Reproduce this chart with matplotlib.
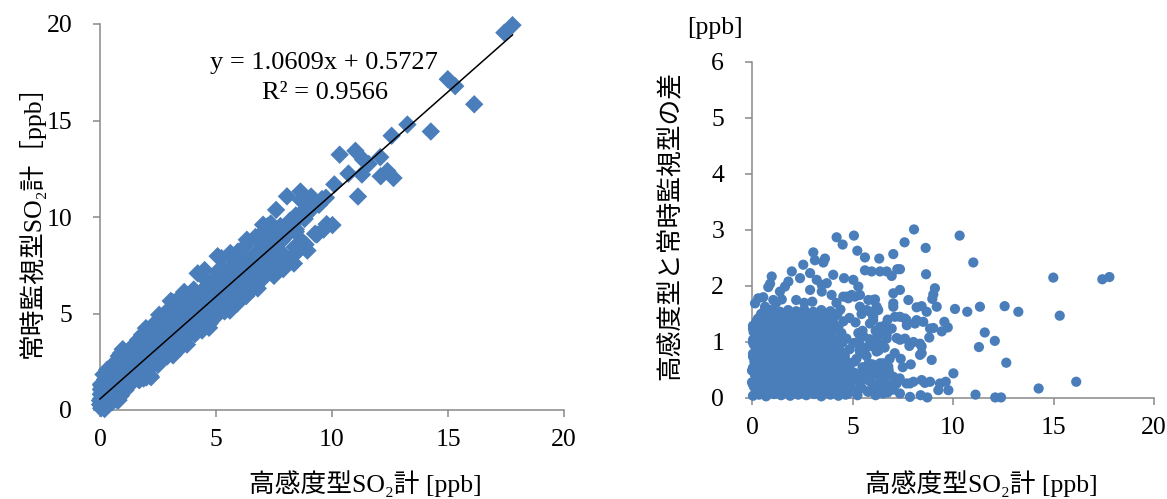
import numpy as np
import matplotlib
matplotlib.use("Agg")
import matplotlib.pyplot as plt

plt.rcParams['font.family'] = ['Liberation Serif', 'Noto Sans CJK JP', 'DejaVu Sans']

# 高感度型SO2計 (x) readings [ppb]
high_sens = [
    # low band
    0.05, 0.35, 0.70, 1.10, 1.45, 1.90, 2.30, 2.70, 3.10, 3.45, 3.90, 4.30, 4.75,
    0.20, 0.55, 0.90, 1.30, 1.70, 2.05, 2.50, 2.85, 3.30, 3.70, 4.10, 4.55, 5.00,
    0.00, 0.40, 0.80, 1.15, 1.55, 2.00, 2.35, 2.75, 3.15, 3.55, 4.00, 4.40, 4.85,
    0.15, 0.50, 0.95, 1.35, 1.75, 2.20, 2.60, 3.00, 3.40, 3.85, 4.25, 4.70,
    0.05, 0.45, 0.85, 1.25, 1.60, 2.05, 2.45, 2.90, 3.30, 3.70, 4.15, 4.60,
    0.20, 0.60, 1.00, 1.45, 1.85, 2.25, 2.65, 3.10, 3.50, 3.95, 4.40,
    0.05, 0.40, 0.80, 1.20, 1.65, 2.05, 2.45, 2.85, 3.25, 3.70, 4.10, 4.60,
    0.20, 0.60, 1.00, 1.40, 1.80, 2.20, 2.65, 3.05, 3.45, 3.90,
    0.05, 0.45, 0.85, 1.25, 1.65, 2.05, 2.45, 2.85, 3.30, 3.75, 4.20, 4.70,
    0.20, 0.65, 1.05, 1.50, 1.90, 2.30, 2.70, 3.10, 3.50, 4.00, 4.45,
    0.05, 0.45, 0.90, 1.30, 1.70, 2.15, 2.55, 2.95, 3.35, 3.80, 4.30,
    0.30, 0.70, 1.15, 1.55, 1.95, 2.40, 2.80, 3.20, 3.65, 4.10, 4.85,
    0.60, 1.00, 1.40, 1.80, 2.20, 2.60, 3.05, 3.45, 3.90, 4.40,
    0.10, 0.10, 0.12, 0.08,
    # low band, in-between points
    0.18, 0.52, 0.90, 1.28, 1.68, 2.10, 2.50, 2.90, 3.28, 3.68, 4.08, 4.50,
    0.05, 0.42, 0.75, 1.12, 1.50, 1.88, 2.28, 2.68, 3.05, 3.48, 3.88, 4.30, 4.72,
    0.22, 0.60, 0.98, 1.35, 1.75, 2.15, 2.55, 2.95, 3.35, 3.75, 4.18, 4.60,
    0.00, 0.32, 0.72, 1.12, 1.52, 1.92, 2.35, 2.78, 3.18, 3.60, 4.02, 4.45, 4.90,
    0.25, 0.65, 1.05, 1.42, 1.82, 2.22, 2.62, 3.05, 3.48, 3.90, 4.35, 4.80,
    0.05, 0.40, 0.80, 1.22, 1.62, 2.02, 2.42, 2.85, 3.28, 3.70, 4.15, 4.62,
    0.22, 0.62, 1.02, 1.42, 1.85, 2.25, 2.65, 3.05, 3.48, 3.90, 4.35, 4.85,
    0.05, 0.40, 0.80, 1.20, 1.60, 2.00, 2.42, 2.85, 3.25, 3.68, 4.10, 4.50,
    0.25, 0.65, 1.05, 1.45, 1.85, 2.25, 2.68, 3.08, 3.50, 3.95, 4.45,
    0.05, 0.42, 0.85, 1.28, 1.70, 2.10, 2.50, 2.92, 3.32, 3.75, 4.20,
    0.22, 0.65, 1.08, 1.50, 1.92, 2.35, 2.75, 3.15, 3.58, 4.00, 4.55,
    0.45, 0.88, 1.30, 1.72, 2.12, 2.55, 2.98, 3.38, 3.80, 4.25,
    # upper edge below 5.3 ppb
    0.15, 0.31, 0.56, 0.65, 1.06, 0.81, 0.90, 0.98, 1.39, 1.48, 1.64, 1.81, 1.98,
    2.39, 2.55, 2.89, 2.89, 3.05, 3.13, 3.55, 3.63, 3.22, 3.47, 3.72, 3.47, 3.96,
    4.04, 4.21, 4.51, 4.58, 4.54, 4.71, 4.79, 4.96, 5.04, 5.07, 5.24, 5.29, 2.20,
    2.60, 3.00, 1.20, 4.20,
    # 5-7.8 ppb, upper
    5.12, 5.37, 5.37, 5.62, 5.62, 5.71, 5.79, 5.87, 5.87, 5.95, 6.03, 6.03, 6.03,
    6.12, 6.20, 6.28, 6.33, 6.37, 6.37, 6.62, 6.70, 6.70, 6.70, 6.95, 6.95, 7.03,
    7.03, 7.03, 7.03, 7.11, 7.20, 7.23, 7.36, 7.36, 7.36, 7.36, 7.59, 7.61, 7.61,
    7.70, 7.78, 7.83,
    # 5-7.9 ppb, lower
    5.04, 5.29, 5.37, 5.79, 6.03, 6.20, 6.20, 6.37, 6.53, 6.78, 6.87, 7.03, 7.20,
    5.37, 5.79, 6.03, 6.53, 6.95, 7.36, 5.10, 5.20, 5.50, 5.60, 5.90, 5.30, 5.80,
    6.10, 6.40, 5.15, 5.50, 5.45, 6.45, 5.60, 6.30, 6.80, 7.50, 7.90,
    5.15, 5.45, 5.75, 6.05, 6.35, 6.65, 5.30, 5.60, 5.90, 6.20, 6.50, 6.85,
    5.10, 5.40, 5.70, 6.00, 6.30, 6.60, 5.25, 5.55, 5.85, 6.15, 6.45, 6.75,
    7.10, 7.40,
    4.65, 4.95, 5.25, 5.55, 5.85, 6.15, 6.45, 6.75, 7.05, 7.35, 4.90, 5.35,
    5.95, 6.60,
    # above 7.6 ppb
    7.69, 7.69, 7.86, 7.86, 8.03, 8.03, 8.06, 8.11, 8.19, 8.19, 8.36, 8.36, 8.39,
    8.44, 8.44, 8.44, 8.44, 8.52, 8.60, 8.64, 8.66, 8.69, 8.72, 8.82, 8.86, 8.86,
    8.94, 8.97, 9.02, 9.02, 9.10, 9.19, 9.27, 9.35, 9.44, 9.57, 9.64, 9.74, 9.77,
    10.02, 10.10, 10.33, 10.71, 11.01, 11.12, 11.29, 11.34, 11.58, 12.08, 12.10,
    12.39, 12.57, 12.65, 13.25, 14.26, 14.99, 15.31, 16.13, 17.43, 17.78,
]

# 常時監視型SO2計 (y) readings [ppb], same order
continuous = [
    # low band
    0.09, 0.29, 0.73, 1.03, 1.50, 1.86, 2.36, 2.65, 3.17, 3.42, 3.96, 4.26, 4.82,
    0.05, 0.74, 0.74, 1.48, 1.55, 2.24, 2.34, 3.03, 3.15, 3.89, 3.94, 4.73, 4.85,
    0.28, 0.71, 0.51, 1.47, 1.83, 1.69, 2.65, 3.03, 2.83, 3.84, 4.31, 4.12, 5.15,
    0.56, 0.94, 1.35, 1.78, 2.17, 1.70, 3.04, 3.41, 3.83, 4.25, 4.67, 4.26,
    0.59, 1.02, 1.38, 1.81, 2.14, 2.62, 3.00, 3.43, 3.86, 4.24, 4.72, 5.15,
    0.87, 1.30, 1.66, 2.14, 2.52, 2.95, 3.31, 3.79, 4.17, 4.65, 5.06,
    0.84, 1.22, 1.58, 2.01, 2.45, 2.83, 3.27, 3.64, 4.06, 4.48, 4.92, 5.40,
    1.12, 1.55, 1.91, 2.34, 2.72, 3.15, 3.56, 3.99, 4.37, 4.85,
    1.09, 1.52, 1.88, 2.31, 2.69, 3.12, 3.48, 3.91, 4.34, 4.82, 5.23, 5.76,
    1.37, 1.85, 2.21, 2.69, 3.07, 3.50, 3.86, 4.29, 4.67, 5.20, 5.61,
    1.34, 1.77, 2.18, 2.61, 2.99, 3.47, 3.83, 4.26, 4.64, 5.12, 5.58,
    1.72, 2.15, 2.56, 2.99, 3.37, 3.85, 4.21, 4.64, 5.07, 5.55, 6.28,
    2.15, 2.58, 2.94, 3.37, 3.75, 4.18, 4.59, 5.02, 5.45, 5.98,
    1.05, 0.30, 0.77, 1.26,
    # low band, in-between points
    0.28, 0.40, 1.01, 1.38, 1.56, 2.21, 2.60, 2.78, 3.39, 3.78, 3.96, 4.61,
    0.29, 0.65, 0.50, 1.36, 1.73, 1.63, 2.52, 2.91, 3.30, 3.24, 4.11, 4.55, 4.48,
    0.58, 0.96, 1.34, 1.71, 2.11, 1.79, 2.91, 3.31, 3.71, 3.39, 4.54, 4.96,
    0.49, 0.81, 1.21, 1.61, 2.01, 2.41, 2.84, 3.27, 3.67, 4.09, 4.51, 4.94, 5.39,
    0.87, 1.27, 1.67, 2.04, 2.44, 2.84, 3.24, 3.67, 4.10, 4.52, 4.97, 5.42,
    0.79, 1.14, 1.54, 1.96, 2.36, 2.76, 3.16, 3.59, 4.02, 4.44, 4.89, 5.36,
    1.09, 1.49, 1.89, 2.29, 2.72, 3.12, 3.52, 3.92, 4.35, 4.77, 5.22, 5.72,
    1.04, 1.39, 1.79, 2.19, 2.59, 2.99, 3.41, 3.84, 4.24, 4.67, 5.09, 5.49,
    1.37, 1.77, 2.17, 2.57, 2.97, 3.37, 3.80, 4.20, 4.62, 5.07, 5.57,
    1.29, 1.66, 2.09, 2.52, 2.94, 3.34, 3.74, 4.16, 4.56, 4.99, 5.44,
    1.59, 2.02, 2.45, 2.87, 3.29, 3.72, 4.12, 4.52, 4.95, 5.37, 5.92,
    1.95, 2.38, 2.80, 3.22, 3.62, 4.05, 4.48, 4.88, 5.30, 5.75,
    # upper edge below 5.3 ppb
    1.84, 2.09, 2.36, 2.28, 2.81, 2.79, 2.94, 3.15, 3.29, 3.24, 3.63, 3.89, 4.24,
    4.53, 4.93, 5.12, 4.82, 5.65, 5.59, 5.97, 6.12, 5.33, 5.49, 5.77, 5.37, 5.80,
    6.24, 7.08, 7.25, 6.72, 6.35, 6.52, 6.57, 6.80, 7.15, 7.97, 7.87, 7.28, 3.95,
    4.30, 4.72, 2.90, 5.90,
    # 5-7.8 ppb, upper
    6.93, 7.00, 7.21, 8.13, 7.90, 7.28, 7.54, 7.41, 7.20, 8.21, 7.78, 7.48, 7.42,
    7.88, 7.83, 7.85, 8.82, 8.63, 7.64, 7.92, 8.96, 7.83, 7.76, 8.19, 9.13, 9.60,
    8.90, 8.72, 8.66, 8.56, 8.27, 9.53, 9.29, 9.66, 8.81, 8.40, 10.37, 9.03, 8.67,
    9.00, 9.53, 8.76,
    # 5-7.9 ppb, lower
    6.02, 6.45, 6.32, 6.71, 6.95, 7.26, 7.03, 6.99, 7.15, 7.34, 7.28, 7.41, 7.46,
    5.11, 5.68, 6.17, 6.45, 6.72, 7.44, 5.55, 5.90, 6.05, 6.40, 5.50, 5.65, 6.42,
    6.60, 6.10, 6.50, 6.70, 6.95, 7.40, 5.15, 5.90, 6.30, 6.95, 7.30,
    5.25, 5.27, 5.87, 6.30, 6.15, 6.80, 5.70, 5.95, 6.45, 6.65, 6.98, 7.55,
    5.75, 6.20, 6.45, 6.60, 7.15, 7.50, 6.25, 6.65, 6.90, 7.35, 7.60, 8.15,
    7.90, 8.10,
    4.71, 5.25, 5.30, 5.93, 6.15, 6.10, 6.87, 6.85, 7.20, 7.70, 5.52, 6.20,
    6.95, 6.30,
    # above 7.6 ppb
    9.08, 7.43, 8.12, 7.88, 9.03, 7.74, 11.07, 9.44, 9.81, 9.58, 9.33, 7.59, 8.44,
    10.08, 9.24, 8.12, 9.36, 9.88, 8.33, 11.32, 10.87, 10.23, 8.73, 9.90, 8.57, 10.10,
    8.26, 10.74, 10.87, 10.27, 11.06, 10.82, 9.13, 9.09, 10.63, 10.93, 9.35, 11.00, 9.63,
    9.58, 11.69, 13.23, 12.25, 13.43, 11.06, 12.20, 12.97, 12.75, 13.10, 12.11,
    12.38, 14.21, 12.02, 14.79, 14.43, 17.14, 16.78, 15.84, 19.55, 19.94,
]

# trendline shown on the chart
fit_slope = 1.0609
fit_intercept = 0.5727
fit_r2 = 0.9566

x_ticks = [0, 5, 10, 15, 20]
y_ticks_left = [0, 5, 10, 15, 20]
y_ticks_right = [0, 1, 2, 3, 4, 5, 6]

x = np.array(high_sens)
y = np.array(continuous)
assert len(x) == len(y)
diff = np.abs(y - x)  # 高感度型と常時監視型の差

W, H = 1167, 499
fig = plt.figure(figsize=(W / 100, H / 100), dpi=100)

blue = '#4A7EBB'
gray = '#898989'
fs = 18.5


def style(ax):
    for s in ('top', 'right'):
        ax.spines[s].set_visible(False)
    for s in ('left', 'bottom'):
        ax.spines[s].set_color(gray)
        ax.spines[s].set_linewidth(1.1)
    ax.tick_params(axis='both', direction='out', length=5, width=1.1,
                   color=gray, labelcolor='black', labelsize=fs)
    ax.tick_params(axis='y', pad=15)
    ax.tick_params(axis='x', pad=9)


# left panel
axL = fig.add_axes([100 / W, 1 - 410 / H, 464 / W, 386 / H])
axL.scatter(x, y, marker='D', s=88, color=blue, edgecolors='none',
            zorder=3, clip_on=False)
xx = np.array([x.min(), x.max()])
axL.plot(xx, fit_slope * xx + fit_intercept, color='black', lw=1.1,
         zorder=4, clip_on=False)
axL.set_xlim(0, 20)
axL.set_ylim(0, 20)
axL.set_xticks(x_ticks)
axL.set_yticks(y_ticks_left)
style(axL)

fig.text(324 / W, 1 - 63 / H, f'y = {fit_slope:.4f}x + {fit_intercept:.4f}',
         ha='center', va='center', fontsize=19)
fig.text(325 / W, 1 - 93 / H, f'R² = {fit_r2:.4f}',
         ha='center', va='center', fontsize=19)
fig.text(31 / W, 1 - 215 / H, '常時監視型SO₂計［ppb］', rotation=90,
         ha='center', va='center', fontsize=fs)
fig.text(365 / W, 1 - 484 / H, '高感度型SO₂計 [ppb]',
         ha='center', va='center', fontsize=fs)

# right panel
axR = fig.add_axes([752 / W, 1 - 398 / H, 402 / W, 336 / H])
axR.scatter(x, diff, marker='o', s=54, color=blue, edgecolors='none',
            zorder=3, clip_on=False)
axR.set_xlim(0, 20)
axR.set_ylim(0, 6)
axR.set_xticks(x_ticks)
axR.set_yticks(y_ticks_right)
style(axR)

fig.text(670 / W, 1 - 226 / H, '高感度型と常時監視型の差', rotation=90,
         ha='center', va='center', fontsize=fs)
fig.text(715 / W, 1 - 28 / H, '[ppb]', ha='center', va='center', fontsize=fs)
fig.text(981 / W, 1 - 484 / H, '高感度型SO₂計 [ppb]',
         ha='center', va='center', fontsize=fs)

fig.savefig('out.png', dpi=100)
